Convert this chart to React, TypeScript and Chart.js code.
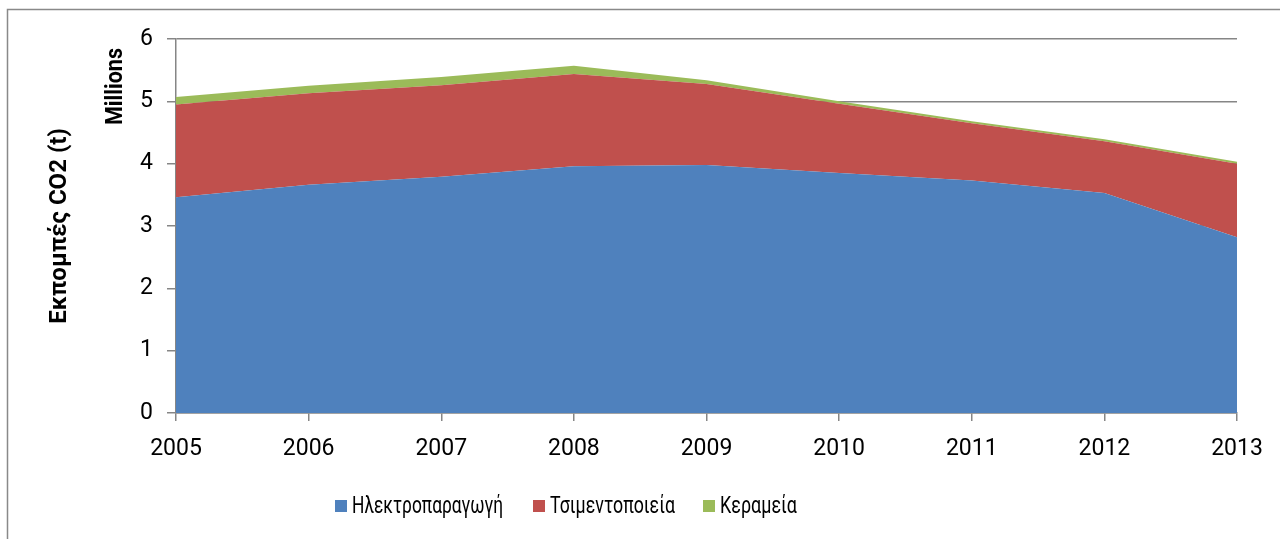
import React, { useEffect, useRef } from "react";
import { Chart, registerables } from "chart.js";

Chart.register(...registerables);

const years = ["2005", "2006", "2007", "2008", "2009", "2010", "2011", "2012", "2013"];
const power = [3.46, 3.66, 3.79, 3.96, 3.98, 3.85, 3.73, 3.53, 2.82];
const cement = [1.49, 1.47, 1.47, 1.48, 1.30, 1.11, 0.92, 0.83, 1.18];
const ceramics = [0.12, 0.12, 0.13, 0.13, 0.06, 0.04, 0.03, 0.03, 0.03];
const seriesNames = ["Ηλεκτροπαραγωγή", "Τσιμεντοποιεία", "Κεραμεία"];
const seriesColors = ["#4F81BD", "#C0504D", "#9BBB59"];
const yTitle = "Εκπομπές CO2 (t)";
const unitLabel = "Millions";

const FONT = "Roboto, 'Open Sans', sans-serif";
const GRID = "#868686";

// legend layout (box left x, text max width)
const legendBoxX = [335, 533, 703];
const legendTextW = [151, 125, 77];

const decorPlugin = {
  id: "decor",
  afterDraw(chart: any) {
    const ctx = chart.ctx;
    const area = chart.chartArea;
    ctx.save();
    // outer frame
    ctx.strokeStyle = "#898989";
    ctx.lineWidth = 1.5;
    ctx.strokeRect(7.5, 9.5, 1400, 700);
    // titles
    ctx.fillStyle = "#000";
    ctx.font = "bold 24px " + FONT;
    ctx.textBaseline = "middle";
    ctx.save();
    ctx.translate(60, (area.top + area.bottom) / 2);
    ctx.rotate(-Math.PI / 2);
    ctx.textAlign = "center";
    ctx.fillText(yTitle, 0, 0, 208);
    ctx.restore();
    ctx.save();
    ctx.translate(116, 48);
    ctx.rotate(-Math.PI / 2);
    ctx.textAlign = "right";
    ctx.fillText(unitLabel, 0, 0, 77);
    ctx.restore();
    // legend
    const ly = 506;
    ctx.font = "23px " + FONT;
    ctx.textAlign = "left";
    chart.data.datasets.forEach((ds: any, i: number) => {
      const bx = legendBoxX[i];
      ctx.fillStyle = ds.backgroundColor;
      ctx.fillRect(bx, ly - 6, 12, 12);
      ctx.fillStyle = "#000";
      ctx.fillText(ds.label, bx + 17, ly + 1, legendTextW[i]);
    });
    ctx.restore();
  },
};

export default function App() {
  const ref = useRef<HTMLCanvasElement | null>(null);
  useEffect(() => {
    if (!ref.current) return;
    const chart = new Chart(ref.current, {
      type: "line",
      data: {
        labels: years,
        datasets: [
          { label: seriesNames[0], data: power, backgroundColor: seriesColors[0], borderColor: seriesColors[0], borderWidth: 0, fill: "origin", pointRadius: 0 },
          { label: seriesNames[1], data: cement, backgroundColor: seriesColors[1], borderColor: seriesColors[1], borderWidth: 0, fill: "-1", pointRadius: 0 },
          { label: seriesNames[2], data: ceramics, backgroundColor: seriesColors[2], borderColor: seriesColors[2], borderWidth: 0, fill: "-1", pointRadius: 0 },
        ],
      },
      options: {
        animation: false,
        responsive: false,
        layout: { padding: { left: 0, right: 43, top: 39, bottom: 76 } },
        plugins: {
          legend: { display: false },
          tooltip: { enabled: false },
        },
        scales: {
          x: {
            type: "category",
            offset: false,
            grid: { drawOnChartArea: false, drawTicks: true, tickLength: 8, color: GRID, lineWidth: 1.5 },
            border: { color: GRID, width: 1.5 },
            ticks: { color: "#000", font: { family: FONT, size: 23 }, padding: 14, maxRotation: 0, autoSkip: false },
            afterFit: (s: any) => { s.height = 50; },
          },
          y: {
            stacked: true,
            min: 0,
            max: 6,
            grid: { color: GRID, lineWidth: 1.5, tickLength: 9 },
            border: { color: GRID, width: 1.5 },
            ticks: { stepSize: 1, color: "#000", font: { family: FONT, size: 23 }, padding: 14 },
            afterFit: (s: any) => { s.width = 176; },
          },
        },
      },
      plugins: [decorPlugin],
    } as any);
    return () => chart.destroy();
  }, []);
  return (
    <div style={{ position: "fixed", left: 0, top: 0, width: 1280, height: 539, background: "#fff" }}>
      <canvas ref={ref} width={1280} height={539} style={{ display: "block" }} />
    </div>
  );
}
